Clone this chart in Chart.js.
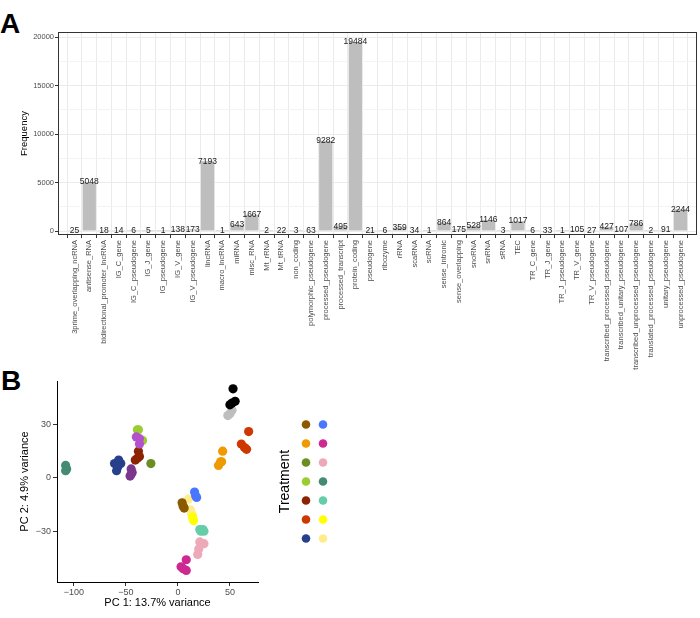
<!DOCTYPE html>
<html>
<head>
<meta charset="utf-8">
<script src="https://cdn.jsdelivr.net/npm/chart.js@4.4.1/dist/chart.umd.min.js"></script>
<style>
  body { margin: 0; background: #fff; width: 700px; height: 618px; position: relative; overflow: hidden; font-family: "Liberation Sans", Arial, sans-serif; }
  canvas { position: absolute; }
  #barChart { left: 0; top: 0; }
  #pcaChart { left: 0; top: 370px; }
  .panel { position: absolute; font-weight: bold; font-size: 28px; line-height: 1; color: #000; }
</style>
</head>
<body>
<div class="panel" style="left:0; top:10px;">A</div>
<div class="panel" style="left:1px; top:367px;">B</div>
<canvas id="barChart" width="700" height="395"></canvas>
<canvas id="pcaChart" width="360" height="248"></canvas>
<script>
// ---- panel A data ----
const biotypes = [
  '3prime_overlapping_ncRNA', 'antisense_RNA', 'bidirectional_promoter_lncRNA', 'IG_C_gene',
  'IG_C_pseudogene', 'IG_J_gene', 'IG_pseudogene', 'IG_V_gene', 'IG_V_pseudogene', 'lincRNA',
  'macro_lncRNA', 'miRNA', 'misc_RNA', 'Mt_rRNA', 'Mt_tRNA', 'non_coding',
  'polymorphic_pseudogene', 'processed_pseudogene', 'processed_transcript', 'protein_coding',
  'pseudogene', 'ribozyme', 'rRNA', 'scaRNA', 'scRNA', 'sense_intronic', 'sense_overlapping',
  'snoRNA', 'snRNA', 'sRNA', 'TEC', 'TR_C_gene', 'TR_J_gene', 'TR_J_pseudogene', 'TR_V_gene',
  'TR_V_pseudogene', 'transcribed_processed_pseudogene', 'transcribed_unitary_pseudogene',
  'transcribed_unprocessed_pseudogene', 'translated_processed_pseudogene', 'unitary_pseudogene',
  'unprocessed_pseudogene'
];
const frequency = [
  25, 5048, 18, 14, 6, 5, 1, 138, 173, 7193, 1, 643, 1667, 2, 22, 3, 63, 9282, 495, 19484,
  21, 6, 359, 34, 1, 864, 175, 528, 1146, 3, 1017, 6, 33, 1, 105, 27, 427, 107, 786, 2, 91, 2244
];
const freqTicks = [0, 2500, 5000, 7500, 10000, 12500, 15000, 17500, 20000];

// ---- panel B data (one array per treatment group) ----
const pc1 = [
  [4, 6, 5],             // brown
  [43, 41, 39, 42],      // orange
  [-26],                 // olive
  [-40, -37, -37],       // orchid
  [-39, -38, -34],       // yellow green
  [-38, -39, -41, -37],  // dark red
  [68, 61, 64, 66],      // orange red
  [-61, -57, -55, -59, -58], // dark blue
  [16, 18, 17],          // royal blue
  [8, 3, 5, 8],          // deep pink
  [21, 25, 20, 19],      // pink
  [-108, -108, -107],    // teal
  [21, 24, 25, 22],      // aquamarine
  [15, 14],              // yellow
  [10, 12, 14, 13],      // light yellow
  [53, 50, 52, 55],      // black
  [48, 50, 52],          // grey
  [-45, -44, -46, -45]   // purple
];
const pc2 = [
  [-14, -17, -16],
  [15, 9, 7, 9],
  [8],
  [23, 22, 19],
  [27, 27, 21],
  [15, 11, 10, 12],
  [26, 19, 17, 16],
  [8, 10, 8, 4, 6],
  [-8, -11, -10],
  [-46, -50, -51, -52],
  [-36, -37, -40, -43],
  [7, 4, 5],
  [-29, -29, -30, -30],
  [-24, -22],
  [-12, -18, -21, -20],
  [50, 41, 42, 43],
  [35, 36, 38],
  [5, 3, 1, 2]
];
const pcTicksX = [-100, -50, 0, 50];
const pcTicksY = [-30, 0, 30];

const groupColors = [
  '#8B5A00', '#EE9A00', '#6B8E23', '#B452CD', '#9ACD32', '#8B2500', '#CD3700', '#27408B',
  '#4876FF', '#CD2990', '#EEA9B8', '#458B74', '#66CDAA', '#FFFF00', '#FFEC8B', '#000000',
  '#BEBEBE', '#7A378B'
];
// legend columns (indices into groupColors)
const legendLeft = [0, 1, 2, 4, 5, 6, 7];
const legendRight = [8, 9, 10, 11, 12, 13, 14];

const FONT = '"Liberation Sans", Arial, sans-serif';
Chart.defaults.font.family = FONT;
Chart.defaults.animation = false;

// frame around the bar plot panel + value labels
const barExtras = {
  id: 'barExtras',
  afterDatasetsDraw(chart) {
    const ctx = chart.ctx;
    const meta = chart.getDatasetMeta(0);
    ctx.save();
    ctx.fillStyle = '#1a1a1a';
    ctx.font = '8.5px ' + FONT;
    ctx.textAlign = 'center';
    ctx.textBaseline = 'middle';
    meta.data.forEach((bar, i) => {
      ctx.fillText(String(frequency[i]), bar.x, bar.y);
    });
    const a = chart.chartArea;
    ctx.strokeStyle = '#333333';
    ctx.lineWidth = 1;
    ctx.strokeRect(Math.round(a.left) + 0.5, Math.round(a.top) + 0.5,
      Math.round(a.right - a.left) - 1, Math.round(a.bottom - a.top) - 1);
    ctx.restore();
  }
};

new Chart(document.getElementById('barChart'), {
  type: 'bar',
  data: {
    datasets: [{
      data: frequency.map((v, i) => ({ x: i, y: v })),
      backgroundColor: '#bebebe',
      borderWidth: 0,
      barPercentage: 0.9,
      categoryPercentage: 1
    }]
  },
  options: {
    responsive: false,
    layout: { padding: { top: 32, right: 3, left: 0, bottom: 0 } },
    plugins: { legend: { display: false }, tooltip: { enabled: false } },
    scales: {
      x: {
        type: 'linear',
        min: -0.6,
        max: biotypes.length - 0.4,
        afterBuildTicks: s => { s.ticks = biotypes.map((_, i) => ({ value: i })); },
        afterFit: s => { s.height = 160; },
        border: { display: false },
        grid: { color: '#ebebeb', lineWidth: 1, tickLength: 3, tickColor: '#333333' },
        ticks: {
          autoSkip: false,
          maxRotation: 90,
          minRotation: 90,
          padding: 2,
          color: '#4d4d4d',
          font: { size: 7.5 },
          callback: v => biotypes[v]
        }
      },
      y: {
        min: -412,
        max: 20516,
        afterBuildTicks: s => { s.ticks = freqTicks.map(v => ({ value: v })); },
        afterFit: s => { s.width = 58; },
        border: { display: false },
        grid: {
          color: c => (c.tick && c.tick.value % 5000 === 0) ? '#ebebeb' : '#f4f4f4',
          tickColor: c => (c.tick && c.tick.value % 5000 === 0) ? '#333333' : 'rgba(0,0,0,0)',
          tickLength: 3
        },
        ticks: {
          color: '#4d4d4d',
          font: { size: 7.5 },
          padding: 1,
          callback: v => (v % 5000 === 0 ? v : '')
        },
        title: {
          display: true,
          text: 'Frequency',
          color: '#000',
          font: { size: 9.5 },
          padding: { top: 19, bottom: 0 }
        }
      }
    }
  },
  plugins: [barExtras]
});

// legend for panel B
const pcaLegend = {
  id: 'pcaLegend',
  afterDraw(chart) {
    const ctx = chart.ctx;
    const a = chart.chartArea;
    const cy = (a.top + a.bottom) / 2;
    ctx.save();
    ctx.fillStyle = '#000';
    ctx.font = '14px ' + FONT;
    ctx.textAlign = 'center';
    ctx.textBaseline = 'middle';
    ctx.translate(a.right + 27, cy);
    ctx.rotate(-Math.PI / 2);
    ctx.fillText('Treatment', 0, 0);
    ctx.restore();
    ctx.save();
    [legendLeft, legendRight].forEach((col, c) => {
      col.forEach((g, r) => {
        ctx.beginPath();
        ctx.fillStyle = groupColors[g];
        ctx.arc(a.right + 48 + c * 17, cy + (r - 3) * 19, 4.3, 0, Math.PI * 2);
        ctx.fill();
      });
    });
    ctx.restore();
  }
};

new Chart(document.getElementById('pcaChart'), {
  type: 'scatter',
  data: {
    datasets: pc1.map((xs, g) => ({
      data: xs.map((x, i) => ({ x: x, y: pc2[g][i] })),
      backgroundColor: groupColors[g],
      borderWidth: 0,
      pointRadius: 4.6,
      pointHoverRadius: 4.6
    }))
  },
  options: {
    responsive: false,
    layout: { padding: { top: 11, right: 102, left: 0, bottom: 0 } },
    plugins: { legend: { display: false }, tooltip: { enabled: false } },
    scales: {
      x: {
        min: -116.3,
        max: 77,
        afterBuildTicks: s => { s.ticks = pcTicksX.map(v => ({ value: v })); },
        afterFit: s => { s.height = 36; },
        border: { display: true, color: '#000', width: 1 },
        grid: { display: true, drawOnChartArea: false, tickLength: 4, tickColor: '#333' },
        ticks: {
          color: '#4d4d4d', font: { size: 9 }, padding: 1,
          callback: v => String(v).replace('-', '\u2212')
        },
        title: {
          display: true, text: 'PC 1: 13.7% variance', color: '#000',
          font: { size: 11 }, padding: { top: 0, bottom: 8 }
        }
      },
      y: {
        min: -58.5,
        max: 54.4,
        afterBuildTicks: s => { s.ticks = pcTicksY.map(v => ({ value: v })); },
        afterFit: s => { s.width = 57; },
        border: { display: true, color: '#000', width: 1 },
        grid: { display: true, drawOnChartArea: false, tickLength: 4, tickColor: '#333' },
        ticks: {
          color: '#4d4d4d', font: { size: 9 }, padding: 2,
          callback: v => String(v).replace('-', '\u2212')
        },
        title: {
          display: true, text: 'PC 2: 4.9% variance', color: '#000',
          font: { size: 11 }, padding: { top: 18, bottom: 0 }
        }
      }
    }
  },
  plugins: [pcaLegend]
});
</script>
</body>
</html>
